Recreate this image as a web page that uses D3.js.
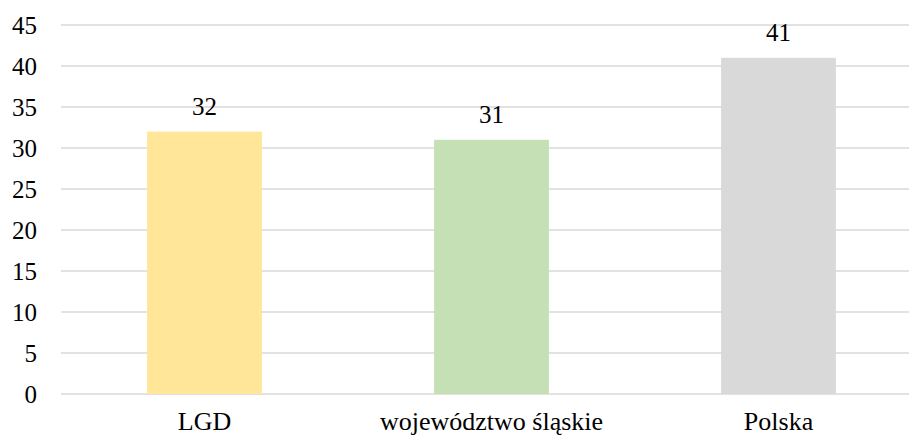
<!DOCTYPE html>
<html>
<head>
<meta charset="utf-8">
<script src="https://cdn.jsdelivr.net/npm/d3@7"></script>
<style>
  body { margin: 0; background: #fff; }
</style>
</head>
<body>
<div class="canvas"></div>
<script>
const categories = ["LGD", "województwo śląskie", "Polska"];
const values = [32, 31, 41];
const barColors = ["#FFE699", "#C5E0B4", "#D9D9D9"];
const yTicks = [0, 5, 10, 15, 20, 25, 30, 35, 40, 45];

const width = 909;
const height = 436;
const margin = { top: 25, left: 61, bottom: 42 };
const plotRight = 922;
const fontFamily = "'Liberation Serif', 'Times New Roman', serif";

const svg = d3
  .select(".canvas")
  .append("svg")
  .attr("width", width)
  .attr("height", height)
  .attr("font-family", fontFamily);

const x = d3
  .scaleBand()
  .domain(categories)
  .range([margin.left, plotRight])
  .paddingInner(0.6)
  .paddingOuter(0.3);

const y = d3
  .scaleLinear()
  .domain([0, 45])
  .range([height - margin.bottom, margin.top]);

// gridlines
svg
  .append("g")
  .selectAll("line")
  .data(yTicks)
  .enter()
  .append("line")
  .attr("x1", margin.left)
  .attr("x2", plotRight)
  .attr("y1", (d) => y(d))
  .attr("y2", (d) => y(d))
  .attr("stroke", "#D9D9D9")
  .attr("stroke-width", 1.5);

// y axis labels
const yAxis = svg
  .append("g")
  .attr("transform", `translate(${margin.left - 24}, 0)`)
  .call(d3.axisLeft(y).tickValues(yTicks).tickSize(0).tickPadding(0))
  .attr("font-family", fontFamily)
  .attr("font-size", 25);
yAxis.select(".domain").remove();
yAxis.selectAll("text").attr("fill", "#000").attr("dy", "0.34em");

// bars
svg
  .append("g")
  .selectAll("rect")
  .data(values)
  .enter()
  .append("rect")
  .attr("x", (d, i) => x(categories[i]))
  .attr("y", (d) => y(d))
  .attr("width", x.bandwidth())
  .attr("height", (d) => y(0) - y(d))
  .attr("fill", (d, i) => barColors[i]);

// value labels
svg
  .append("g")
  .selectAll("text")
  .data(values)
  .enter()
  .append("text")
  .attr("x", (d, i) => x(categories[i]) + x.bandwidth() / 2)
  .attr("y", (d) => y(d) - 17)
  .attr("text-anchor", "middle")
  .attr("font-size", 25)
  .attr("fill", "#000")
  .text((d) => d);

// x axis labels
const xAxis = svg
  .append("g")
  .attr("transform", `translate(0, ${y(0)})`)
  .call(d3.axisBottom(x).tickSize(0).tickPadding(0))
  .attr("font-family", fontFamily)
  .attr("font-size", 26);
xAxis.select(".domain").remove();
xAxis
  .selectAll("text")
  .attr("fill", "#000")
  .attr("dy", null)
  .attr("y", 36);
</script>
</body>
</html>
